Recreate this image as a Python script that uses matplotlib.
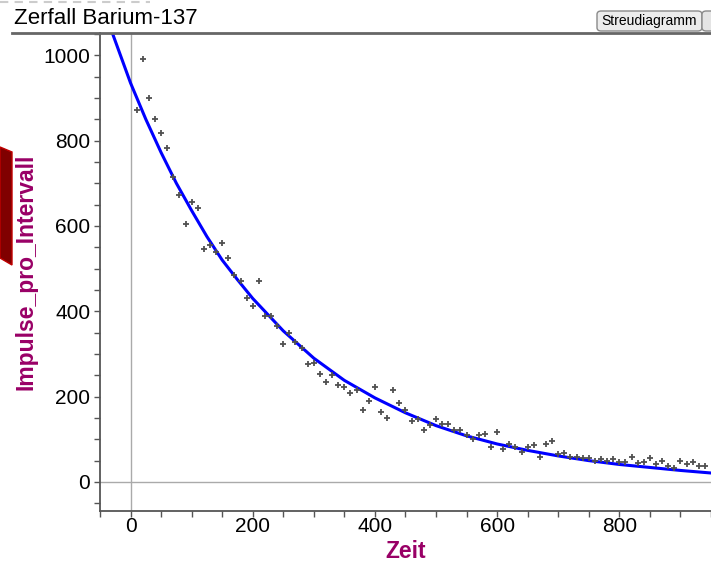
from matplotlib import pyplot as plt
from matplotlib.patches import Polygon, FancyBboxPatch
from matplotlib.lines import Line2D
from matplotlib.ticker import MultipleLocator

zeit = [10, 20, 30, 40, 50, 60, 70, 80, 90, 100,
        110, 120, 130, 140, 150, 160, 170, 180, 190, 200,
        210, 220, 230, 240, 250, 260, 270, 280, 290, 300,
        310, 320, 330, 340, 350, 360, 370, 380, 390, 400,
        410, 420, 430, 440, 450, 460, 470, 480, 490, 500,
        510, 520, 530, 540, 550, 560, 570, 580, 590, 600,
        610, 620, 630, 640, 650, 660, 670, 680, 690, 700,
        710, 720, 730, 740, 750, 760, 770, 780, 790, 800,
        810, 820, 830, 840, 850, 860, 870, 880, 890, 900,
        910, 920, 930, 940]
impulse = [872, 991, 899, 851, 818, 782, 714, 672, 604, 657,
           642, 547, 556, 538, 560, 524, 485, 470, 431, 413,
           470, 389, 389, 366, 324, 348, 328, 315, 276, 279,
           252, 234, 251, 228, 222, 208, 216, 169, 190, 223,
           163, 151, 216, 184, 169, 143, 147, 122, 134, 148,
           136, 136, 122, 122, 109, 100, 110, 113, 83, 118,
           77, 89, 83, 71, 83, 86, 59, 89, 95, 66,
           69, 59, 59, 56, 56, 48, 53, 50, 53, 47,
           47, 59, 44, 47, 56, 41, 50, 38, 32, 50,
           41, 47, 38, 38]

# fitted decay curve
fit_zeit = [-30, 0, 25, 50, 75, 100, 125, 150, 175, 200, 250, 300, 350,
            400, 450, 500, 550, 600, 650, 700, 750, 800, 850, 900, 950]
fit_impulse = [1053, 935, 850, 772, 700, 636, 575, 520, 474, 430, 354, 290,
               238, 197, 162, 132, 108, 89, 74, 61, 50, 41, 34, 27, 21]

x_ticks = [0, 200, 400, 600, 800]
y_ticks = [0, 200, 400, 600, 800, 1000]

label_color = '#990066'
axis_gray = '#555555'

plt.rcParams['font.family'] = ['Liberation Sans', 'DejaVu Sans']

fig = plt.figure(figsize=(7.11, 5.64), dpi=100)
ax = fig.add_axes([0.1406, 0.094, 0.8594, 0.8475])

# reference lines through the origin
ax.axvline(0, color='#aaaaaa', lw=1, zorder=1)
ax.axhline(0, color='#aaaaaa', lw=1, zorder=1)

ax.plot(fit_zeit, fit_impulse, color='#0000ff', lw=2.2, zorder=2)
ax.plot(zeit, impulse, linestyle='none', marker='+', ms=4, mew=1.3,
        color='#505050', zorder=3)

ax.set_xlim(-50, 950)
ax.set_ylim(-68, 1052)
ax.set_xticks(x_ticks)
ax.set_yticks(y_ticks)
ax.xaxis.set_minor_locator(MultipleLocator(50))
ax.yaxis.set_minor_locator(MultipleLocator(50))
ax.tick_params(which='both', direction='out', length=4, width=1,
               color=axis_gray, labelsize=15)
ax.tick_params(axis='y', pad=3)
ax.tick_params(axis='x', pad=0)

for side in ['top', 'right']:
    ax.spines[side].set_visible(False)
for side in ['left', 'bottom']:
    ax.spines[side].set_color(axis_gray)
    ax.spines[side].set_linewidth(1.3)

ax.set_xlabel('Zeit', fontsize=16.5, fontweight='bold', color=label_color,
              labelpad=3)
ax.set_ylabel('Impulse_pro_Intervall', fontsize=16.5, fontweight='bold',
              color=label_color, labelpad=4)

# title bar and its underline
fig.text(14 / 711, 1 - 19 / 564, 'Zerfall Barium-137', fontsize=16,
         va='center', ha='left', color='black')
fig.add_artist(Line2D([12 / 711, 1], [1 - 33 / 564, 1 - 33 / 564],
                      color='#666666', lw=2, transform=fig.transFigure))

# the "Streudiagramm" button, cut off on the right
btn = FancyBboxPatch((597 / 711, 1 - 31 / 564), 105 / 711, 20 / 564,
                     boxstyle='round,pad=0,rounding_size=0.006',
                     transform=fig.transFigure, facecolor='#ececec',
                     edgecolor='#8a8a8a', lw=1)
fig.add_artist(btn)
btn2 = FancyBboxPatch((702 / 711, 1 - 31 / 564), 14 / 711, 20 / 564,
                      boxstyle='round,pad=0,rounding_size=0.006',
                      transform=fig.transFigure, facecolor='#e4e4e4',
                      edgecolor='#8a8a8a', lw=1)
fig.add_artist(btn2)
fig.text(649.5 / 711, 1 - 21 / 564, 'Streudiagramm', fontsize=10,
         ha='center', va='center', color='black')

# faint dashed line at the very top
fig.add_artist(Line2D([0, 150 / 711], [1 - 1.5 / 564, 1 - 1.5 / 564],
                      color='#cccccc', lw=1.5, ls=(0, (4, 3)),
                      transform=fig.transFigure))

# dark red tab on the left edge
tab = Polygon([(0, 1 - 147 / 564), (12 / 711, 1 - 152 / 564),
               (12 / 711, 1 - 265 / 564), (0, 1 - 258 / 564)],
              closed=True, transform=fig.transFigure,
              facecolor='#800000', edgecolor='#c00000', lw=1)
fig.add_artist(tab)

fig.savefig('out.png', dpi=100)
